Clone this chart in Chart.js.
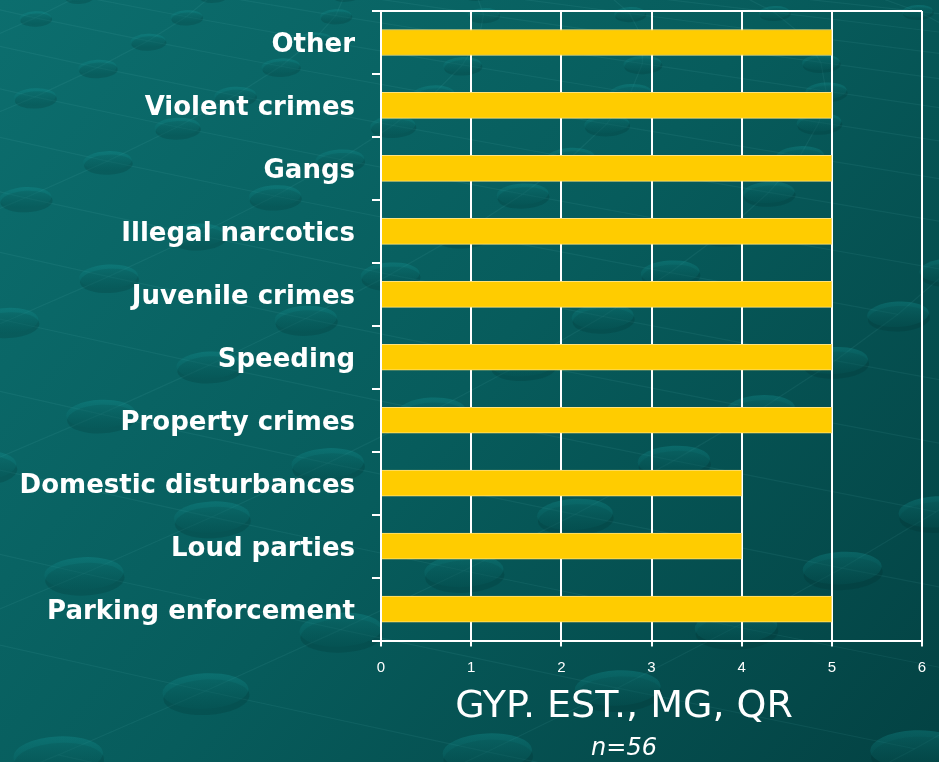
<!DOCTYPE html>
<html>
<head>
<meta charset="utf-8">
<script src="https://cdn.jsdelivr.net/npm/chart.js@4.4.1/dist/chart.umd.min.js"></script>
<style>
html,body{margin:0;padding:0;background:#075a5a;}
#wrap{width:939px;height:762px;}
</style>
</head>
<body>
<div id="wrap"><canvas id="c" width="939" height="762"></canvas></div>
<script>
const categories = ["Other","Violent crimes","Gangs","Illegal narcotics","Juvenile crimes","Speeding","Property crimes","Domestic disturbances","Loud parties","Parking enforcement"];
const values = [5,5,5,5,5,5,5,4,4,5];
const xTicks = [0,1,2,3,4,5,6];
const axisTitle = "GYP. EST., MG, QR";
const subTitle = "n=56";

// decorative background: teal gradient with a faint perspective lattice of discs
const bgPlugin = {
  id:'bg',
  beforeDraw(chart){
    const {ctx,width,height} = chart;
    ctx.save();
    const g = ctx.createLinearGradient(0,0,width,height);
    g.addColorStop(0,'#0c6e6e');
    g.addColorStop(0.5,'#075c5c');
    g.addColorStop(1,'#034243');
    ctx.fillStyle = g;
    ctx.fillRect(0,0,width,height);
    const c = 350;
    const map = (X,Y)=>{ const k = 1 + 2*Y/c; return [X*k*0.9 - 20, Y + Y*Y/c]; };
    const a = [56,-21], b = [98,20];
    const pts = [];
    for(let i=-30;i<40;i++){
      for(let j=-10;j<30;j++){
        const X = i*a[0] + j*b[0], Y = i*a[1] + j*b[1] + 38;
        if (Y < -20 || Y > 420) continue;
        const [x,y] = map(X,Y);
        if (x < -200 || x > width+200 || y > height+100) continue;
        pts.push({i,j,x,y,s:1+2*Y/c});
      }
    }
    const key = (i,j)=>i+','+j;
    const idx = {}; pts.forEach(p=>idx[key(p.i,p.j)]=p);
    ctx.strokeStyle = 'rgba(140,220,220,0.07)';
    ctx.lineWidth = 1.2;
    pts.forEach(p=>{
      [[1,0],[0,1]].forEach(([di,dj])=>{
        const q = idx[key(p.i+di,p.j+dj)];
        if(q){ ctx.beginPath(); ctx.moveTo(p.x,p.y); ctx.lineTo(q.x,q.y); ctx.stroke(); }
      });
    });
    pts.forEach(p=>{
      const rx = 17*p.s*0.85, ry = 7*p.s*0.85;
      ctx.fillStyle = 'rgba(0,40,40,0.18)';
      ctx.beginPath(); ctx.ellipse(p.x+1, p.y+ry*0.35, rx, ry, -0.05, 0, Math.PI*2); ctx.fill();
      const eg = ctx.createLinearGradient(p.x, p.y-ry, p.x, p.y+ry);
      eg.addColorStop(0,'rgba(20,150,150,0.32)');
      eg.addColorStop(1,'rgba(5,90,90,0.25)');
      ctx.fillStyle = eg;
      ctx.beginPath(); ctx.ellipse(p.x, p.y, rx, ry, -0.05, 0, Math.PI*2); ctx.fill();
    });
    ctx.restore();
  }
};

new Chart(document.getElementById('c'), {
  type:'bar',
  data:{
    labels:categories,
    datasets:[{
      data:values,
      backgroundColor:'#ffcc00',
      borderColor:'#ffe27a',
      borderWidth:1,
      barThickness:26
    }]
  },
  plugins:[bgPlugin],
  options:{
    indexAxis:'y',
    responsive:false,
    animation:false,
    layout:{padding:{left:326,right:17,top:11,bottom:0}},
    plugins:{
      legend:{display:false},
      tooltip:{enabled:false},
      title:{
        display:true, position:'bottom', text:axisTitle, color:'#ffffff', weight:1000, fullSize:true,
        font:{family:'DejaVu Sans', size:38, weight:'normal', lineHeight:1.0},
        padding:{top:0,bottom:9}
      },
      subtitle:{
        display:true, position:'bottom', text:subTitle, color:'#ffffff', weight:1500, fullSize:true,
        font:{family:'DejaVu Sans', size:24, style:'italic', lineHeight:1.1},
        padding:{top:0,bottom:0}
      }
    },
    scales:{
      x:{
        min:0, max:6,
        afterBuildTicks(scale){ scale.ticks = xTicks.map(v=>({value:v})); },
        grid:{color:'#ffffff', lineWidth:2, tickLength:6, tickColor:'#ffffff', drawOnChartArea:true},
        border:{display:true, color:'#ffffff', width:2},
        ticks:{color:'#ffffff', padding:12, font:{family:'Liberation Sans', size:15}}
      },
      y:{
        offset:true,
        afterFit(scale){
          scale.width = 55;
          scale.paddingTop = 0;
          scale.paddingBottom = 0;
          scale._computeLabelArea = () => undefined;
        },
        grid:{
          offset:true,
          color:(ctx)=> ctx.index===0 ? '#ffffff' : 'rgba(0,0,0,0)',
          lineWidth:2, tickLength:9, tickColor:'#ffffff'
        },
        border:{display:true, color:'#ffffff', width:2},
        ticks:{color:'#ffffff', padding:17, labelOffset:3, font:{family:'DejaVu Sans', size:26, weight:'bold'}}
      }
    }
  }
});
</script>
</body>
</html>
